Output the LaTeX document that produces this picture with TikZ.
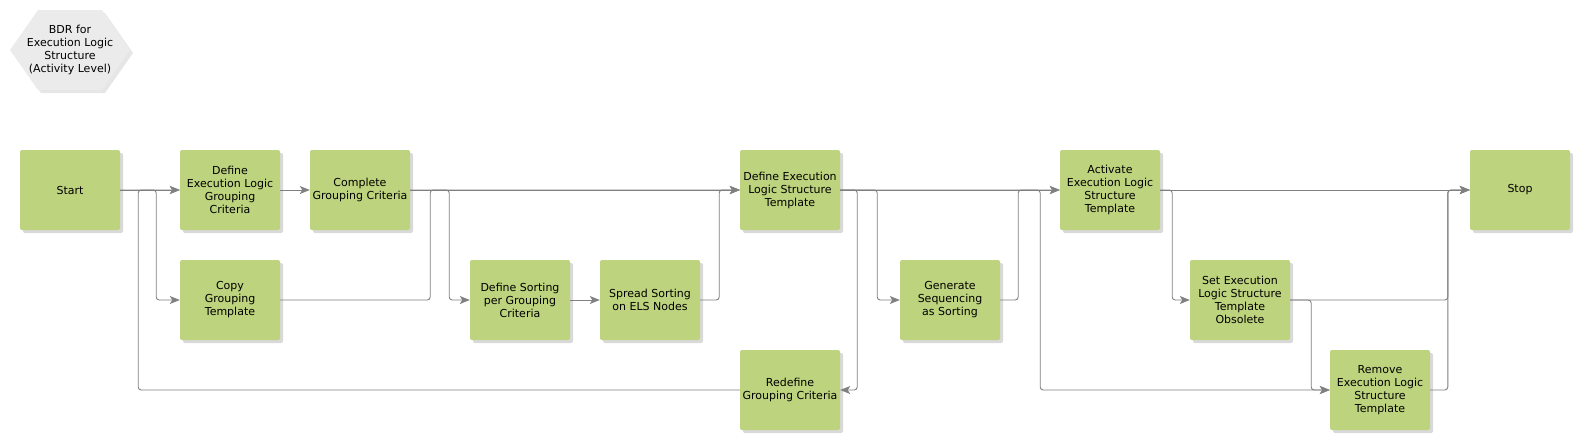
\documentclass[tikz,border=0pt]{standalone}
\usepackage{fontspec}
\setmainfont{DejaVu Sans}
\usetikzlibrary{arrows.meta,shadows}
\definecolor{actgreen}{RGB}{189,211,125}
\definecolor{flowgray}{RGB}{128,128,128}
\definecolor{hexgray}{RGB}{235,235,235}
\tikzset{flow/.style={draw=flowgray, line width=0.9pt, rounded corners=3pt,
    -{Stealth[length=10pt,width=8pt,inset=2.5pt,fill=flowgray]}},
  act/.style={fill=actgreen, rounded corners=2pt, minimum width=100pt, minimum height=80pt,
    align=center, inner sep=1pt, font=\fontsize{11}{13}\selectfont,
    drop shadow={shadow xshift=3pt, shadow yshift=-3pt, opacity=.3}},
  hexa/.style={fill=hexgray, drop shadow={shadow xshift=3pt, shadow yshift=-3pt, opacity=.2}},
  hexlabel/.style={align=center, inner sep=1pt, font=\fontsize{11}{13}\selectfont}}

\begin{document}
\begin{tikzpicture}[x=1pt,y=-1pt]
  \useasboundingbox (0,0) rectangle (1580,440);
  \fill[hexa] (10,50) -- (38,10) -- (102,10) -- (130,50) -- (102,90) -- (38,90) -- cycle;
  \node[hexlabel] (bdr) at (70,50) {BDR for\\Execution Logic\\Structure\\(Activity Level)};
  % activities
  \node[act] (start) at (70,190) {Start};
  \node[act] (defgc) at (230,190) {Define\\Execution Logic\\Grouping\\Criteria};
  \node[act] (compgc) at (360,190) {Complete\\Grouping Criteria};
  \node[act] (copygt) at (230,300) {Copy\\Grouping\\Template};
  \node[act] (defsort) at (520,300) {Define Sorting\\per Grouping\\Criteria};
  \node[act] (spread) at (650,300) {Spread Sorting\\on ELS Nodes};
  \node[act] (defels) at (790,190) {Define Execution\\Logic Structure\\Template};
  \node[act] (redef) at (790,390) {Redefine\\Grouping Criteria};
  \node[act] (gensq) at (950,300) {Generate\\Sequencing\\as Sorting};
  \node[act] (activ) at (1110,190) {Activate\\Execution Logic\\Structure\\Template};
  \node[act] (obsol) at (1240,300) {Set Execution\\Logic Structure\\Template\\Obsolete};
  \node[act] (remove) at (1380,390) {Remove\\Execution Logic\\Structure\\Template};
  \node[act] (stop) at (1520,190) {Stop};
  % grouping part
  \draw[flow] (start.east) -- (defgc.west);
  \draw[flow] (start.east) -- ++(36,0) |- (copygt.west);
  \draw[flow] (redef.west) -| ([xshift=18pt]start.east) -- (defgc.west);
  \draw[flow] (defgc.east) -- (compgc.west);
  \draw[flow] (compgc.east) -- (defels.west);
  \draw[flow] (compgc.east) -- ++(39,0) |- (defsort.west);
  \draw[flow] (copygt.east) -| ([xshift=20pt]compgc.east) -- (defels.west);
  % sorting part
  \draw[flow] (defsort.east) -- (spread.west);
  \draw[flow] (spread.east) -- ++(19,0) |- (defels.west);
  \draw[flow] (defels.east) -- ++(17,0) |- (redef.east);
  \draw[flow] (defels.east) -- (activ.west);
  \draw[flow] (defels.east) -- ++(37,0) |- (gensq.west);
  \draw[flow] (gensq.east) -- ++(18,0) |- (activ.west);
  \draw[flow] (defels.east) -- ++(200,0) |- (remove.west);
  % activation part
  \draw[flow] (activ.east) -- (stop.west);
  \draw[flow] (activ.east) -- ++(12,0) |- (obsol.west);
  \draw[flow] (obsol.east) -| ([xshift=-22pt]stop.west) -- (stop.west);
  \draw[flow] (obsol.east) -- ++(21,0) |- (remove.west);
  \draw[flow] (remove.east) -| ([xshift=-22pt]stop.west) -- (stop.west);
\end{tikzpicture}
\end{document}
